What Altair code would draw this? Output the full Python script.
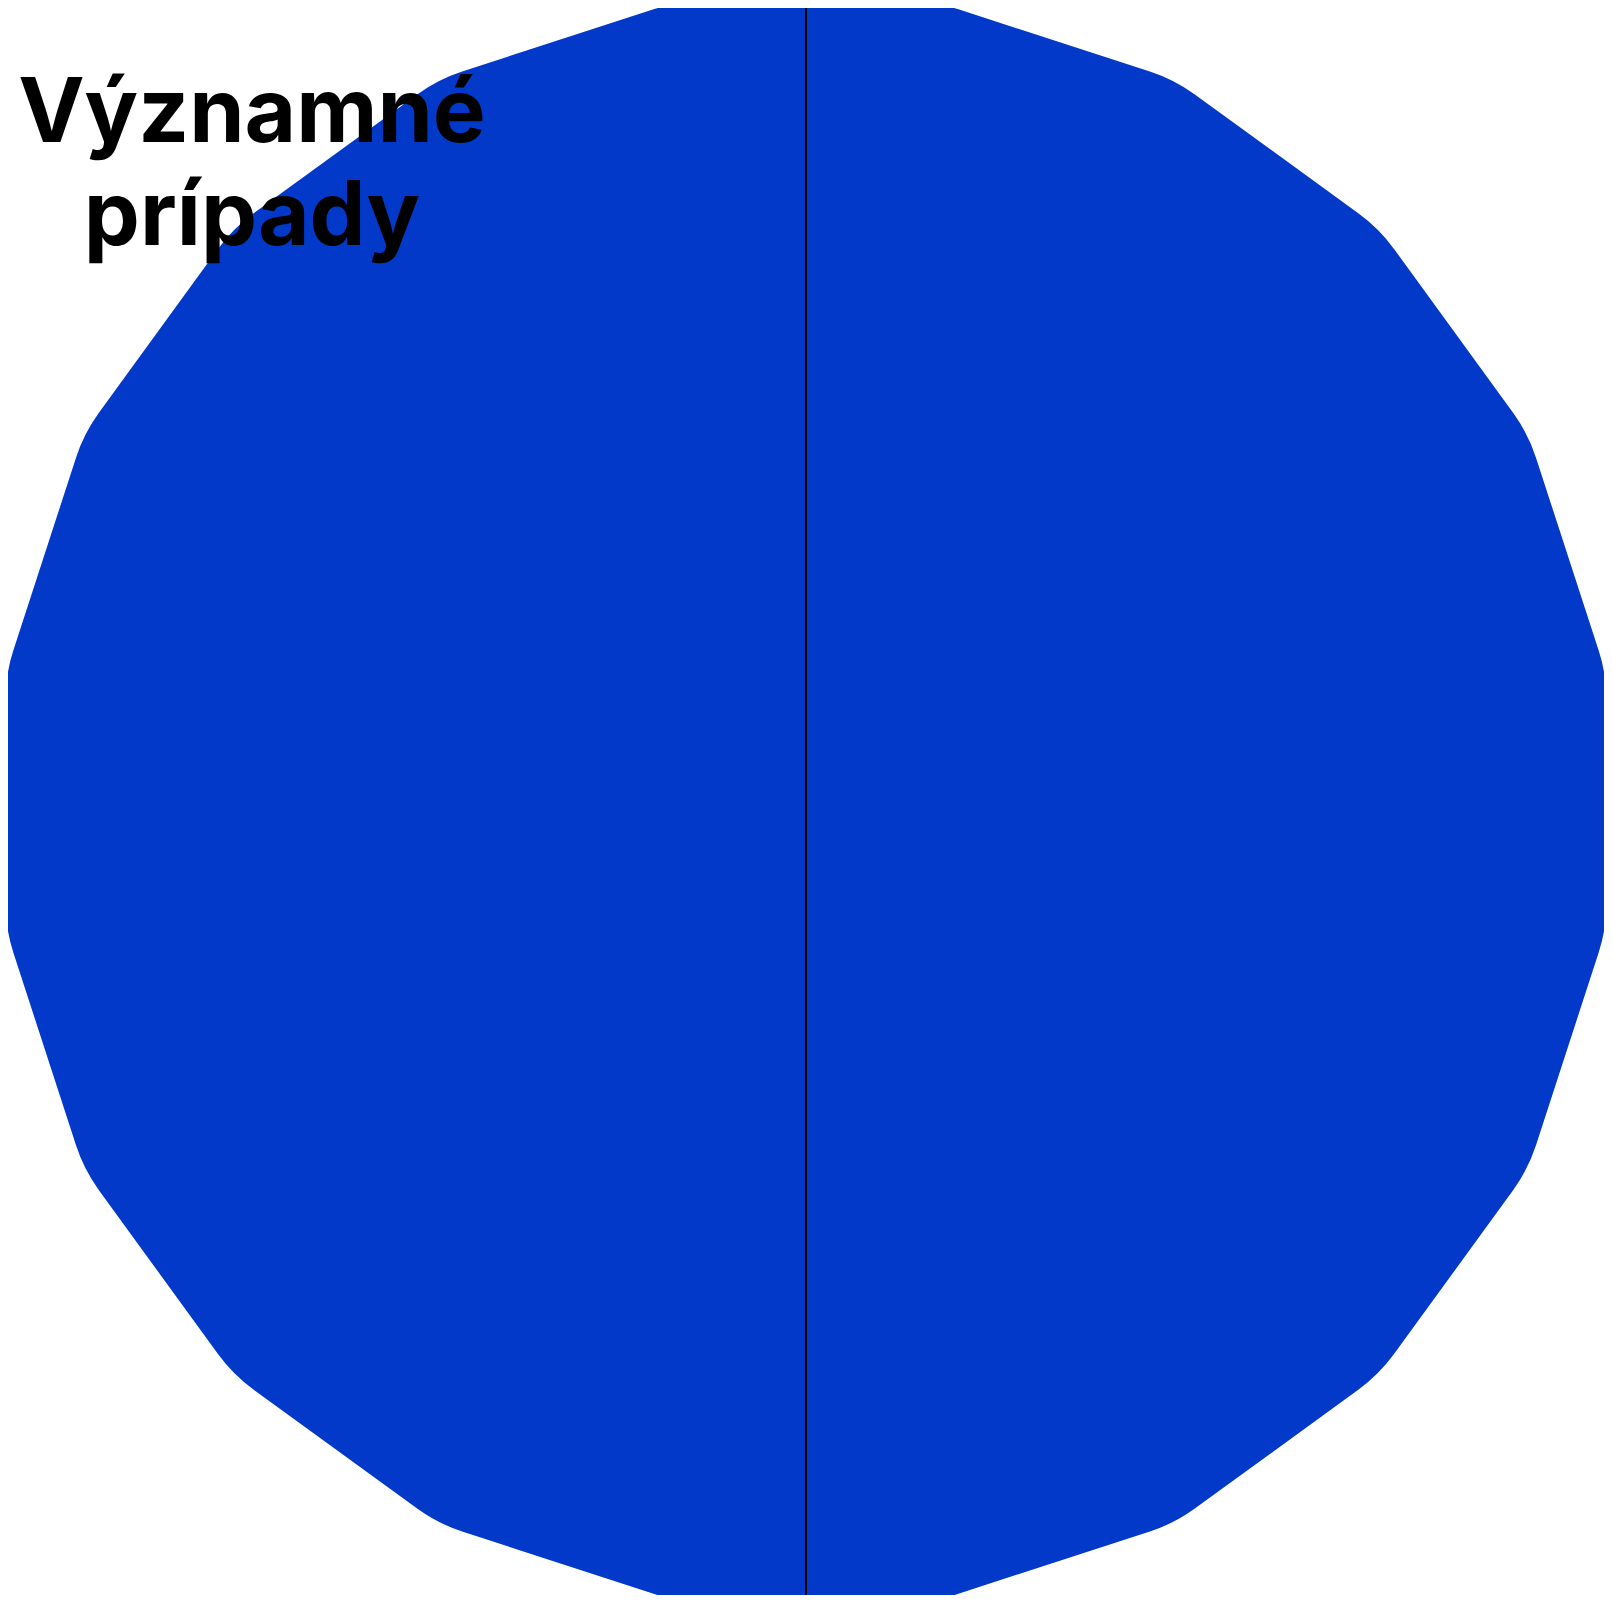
import altair as alt
import pandas as pd

# 20 segments of the radial shape, all with the same (full) value
vertex_index = [0, 1, 2, 3, 4, 5, 6, 7, 8, 9, 10, 11, 12, 13, 14, 15, 16, 17, 18, 19]
radius_value = [1.0, 1.0, 1.0, 1.0, 1.0, 1.0, 1.0, 1.0, 1.0, 1.0,
                1.0, 1.0, 1.0, 1.0, 1.0, 1.0, 1.0, 1.0, 1.0, 1.0]
title_lines = "Významné\nprípady"
axis_line_x = [0.0]

W, H = 1596, 1587
R_PX = 648.5          # pixel radius of value 1.0
DX = (W / 2) / R_PX
DY = (H / 2) / R_PX
BLUE = "#0239C8"

xs = alt.Scale(domain=[-DX, DX], nice=False, zero=False)
ys = alt.Scale(domain=[-DY, DY], nice=False, zero=False)

df = pd.DataFrame({"vertex": vertex_index, "value": radius_value})

shape = alt.Chart(df).transform_calculate(
    angle="(datum.vertex + 0.5) * 2 * PI / 20",
    px="datum.value * sin(datum.angle)",
    py="datum.value * cos(datum.angle)",
).mark_line(
    interpolate="linear-closed",
    fill=BLUE,
    stroke=BLUE,
    strokeWidth=320,
    strokeJoin="round",
    strokeCap="round",
    clip=False,
).encode(
    x=alt.X("px:Q", scale=xs, axis=None),
    y=alt.Y("py:Q", scale=ys, axis=None),
    order=alt.Order("vertex:Q"),
)

rule = alt.Chart(pd.DataFrame({"x": axis_line_x})).mark_rule(
    color="black", strokeWidth=2
).encode(
    x=alt.X("x:Q", scale=xs, axis=None),
    y=alt.value(-10),
    y2=alt.value(H + 10),
)

title = alt.Chart(pd.DataFrame({"t": [title_lines]})).mark_text(
    lineBreak="\n",
    lineHeight=103,
    align="center",
    baseline="alphabetic",
    font="Inter",
    fontWeight="bold",
    fontSize=89,
    color="black",
).encode(
    x=alt.value(244),
    y=alt.value(134),
    text="t:N",
)

chart = alt.layer(shape, rule, title).properties(
    width=W, height=H, padding=0, autosize=alt.AutoSizeParams(type="none")
).configure_view(stroke=None)

chart.save("out.html", embed_options={"renderer": "svg", "actions": False})
